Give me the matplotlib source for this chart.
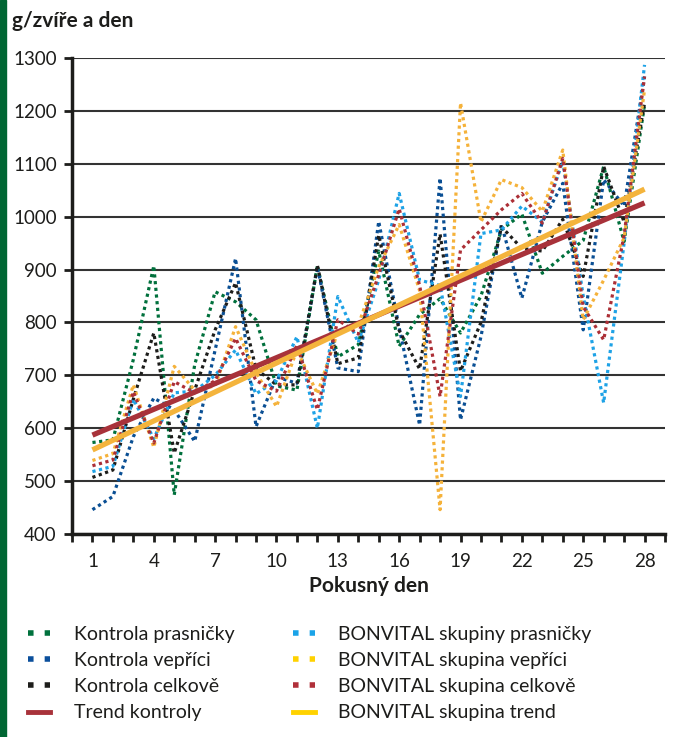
import numpy as np
import matplotlib.pyplot as plt
from matplotlib.lines import Line2D
from matplotlib.patches import Rectangle

plt.rcParams['font.family'] = ['Lato', 'DejaVu Sans']

# data (g/zvire a den)
dny = np.arange(1, 29)

kontrola_prasnicky = [573, 578, 730, 907, 474, 720, 858, 839, 805, 680, 672, 908, 735, 758,
                      935, 755, 815, 845, 780, 850, 975, 1005, 893, 925, 955, 1095, 953, 1212]
kontrola_veprici = [446, 471, 584, 657, 635, 575, 748, 921, 603, 697, 685, 905, 714, 707,
                    991, 790, 606, 1073, 616, 773, 985, 846, 990, 1063, 786, 1070, 1020, 1265]
kontrola_celkove = [507, 521, 655, 780, 553, 672, 786, 875, 712, 682, 682, 908, 722, 733,
                    965, 785, 712, 967, 708, 800, 981, 940, 935, 995, 887, 1095, 990, 1215]
bonvital_prasnicky = [518, 528, 655, 580, 667, 670, 700, 748, 665, 690, 773, 600, 849, 762,
                      880, 1044, 880, 870, 660, 968, 975, 1020, 990, 1105, 850, 648, 950, 1287]
bonvital_veprici = [539, 552, 682, 564, 717, 672, 680, 792, 705, 641, 748, 665, 783, 795,
                    905, 985, 860, 446, 1215, 990, 1070, 1055, 1010, 1126, 805, 880, 960, 1240]
bonvital_celkove = [529, 540, 669, 572, 688, 667, 690, 770, 690, 670, 757, 635, 805, 778,
                    890, 1015, 870, 660, 937, 975, 1013, 1044, 988, 1110, 830, 767, 965, 1265]

# trend lines (end points)
trend_dny = [1, 28]
trend_kontroly = [587, 1026]
trend_bonvital = [559, 1052]

serie = [
    (kontrola_prasnicky, '#00703c', '#00713d', 'Kontrola prasničky'),
    (kontrola_veprici, '#0a4f94', '#0b4f9c', 'Kontrola vepříci'),
    (kontrola_celkove, '#1d1d1b', '#1d1d1b', 'Kontrola celkově'),
    (bonvital_prasnicky, '#1ea2e6', '#1aa3e8', 'BONVITAL skupiny prasničky'),
    (bonvital_veprici, '#f5b23a', '#ffd200', 'BONVITAL skupina vepříci'),
    (bonvital_celkove, '#ac2f36', '#b0303a', 'BONVITAL skupina celkově'),
]

fig = plt.figure(figsize=(6.9, 7.37), dpi=100)
ax = fig.add_axes([72/690, 1-534/737, (665-72)/690, (534-58)/737])

for data, c, _, lab in serie:
    ax.plot(dny, data, color=c, lw=2.3, ls=(0, (1, 1.1)), zorder=3)

ax.plot(trend_dny, trend_kontroly, color='#a8323a', lw=3.8, solid_capstyle='butt', zorder=4)
ax.plot(trend_dny, trend_bonvital, color='#f4b43c', lw=3.8, solid_capstyle='butt', zorder=4)

ax.set_xlim(0, 29)
ax.set_ylim(400, 1300)
ax.set_yticks(np.arange(400, 1301, 100))
ax.set_xticks(np.arange(0, 30))
ax.set_xticklabels([str(d) if d % 3 == 1 else '' for d in range(30)])
ax.yaxis.grid(True, color='#333333', lw=1.5)
ax.set_axisbelow(True)
for s in ['top', 'right']:
    ax.spines[s].set_visible(False)
for s in ['left', 'bottom']:
    ax.spines[s].set_linewidth(2.5)
    ax.spines[s].set_color('#1d1d1b')
ax.tick_params(axis='both', width=2, length=6, color='#1d1d1b', labelsize=13.5, labelcolor='#1d1d1b')
ax.tick_params(axis='x', pad=8)
ax.tick_params(axis='y', pad=5)
ax.set_xlabel('Pokusný den', fontsize=15, fontweight='bold', color='#1d1d1b', labelpad=4)

fig.text(12/690, 1-21/737, 'g/zvíře a den', fontsize=15, fontweight='bold',
         color='#1d1d1b', va='center', ha='left')

# green bar on the left edge
fig.patches.append(Rectangle((0, 0), 6/690, 1, transform=fig.transFigure,
                             color='#006633', zorder=0))

# legend
handles = []
labels = []
for data, _, lc, lab in serie[:3]:
    handles.append(Line2D([], [], color=lc, lw=4, ls=(0, (1, 2))))
    labels.append(lab)
handles.append(Line2D([], [], color='#a8323a', lw=3.5))
labels.append('Trend kontroly')
for data, _, lc, lab in serie[3:]:
    handles.append(Line2D([], [], color=lc, lw=4, ls=(0, (1, 2))))
    labels.append(lab)
handles.append(Line2D([], [], color='#ffd200', lw=3.5))
labels.append('BONVITAL skupina trend')

fig.legend(handles, labels, loc='upper left', bbox_to_anchor=(28/690, 1-626/737),
           ncol=2, frameon=False, fontsize=14, handlelength=1.15, handletextpad=1.2,
           columnspacing=3.0, labelspacing=0.47, borderaxespad=0, borderpad=0,
           labelcolor='#1d1d1b')

plt.savefig('out.png', dpi=100)
